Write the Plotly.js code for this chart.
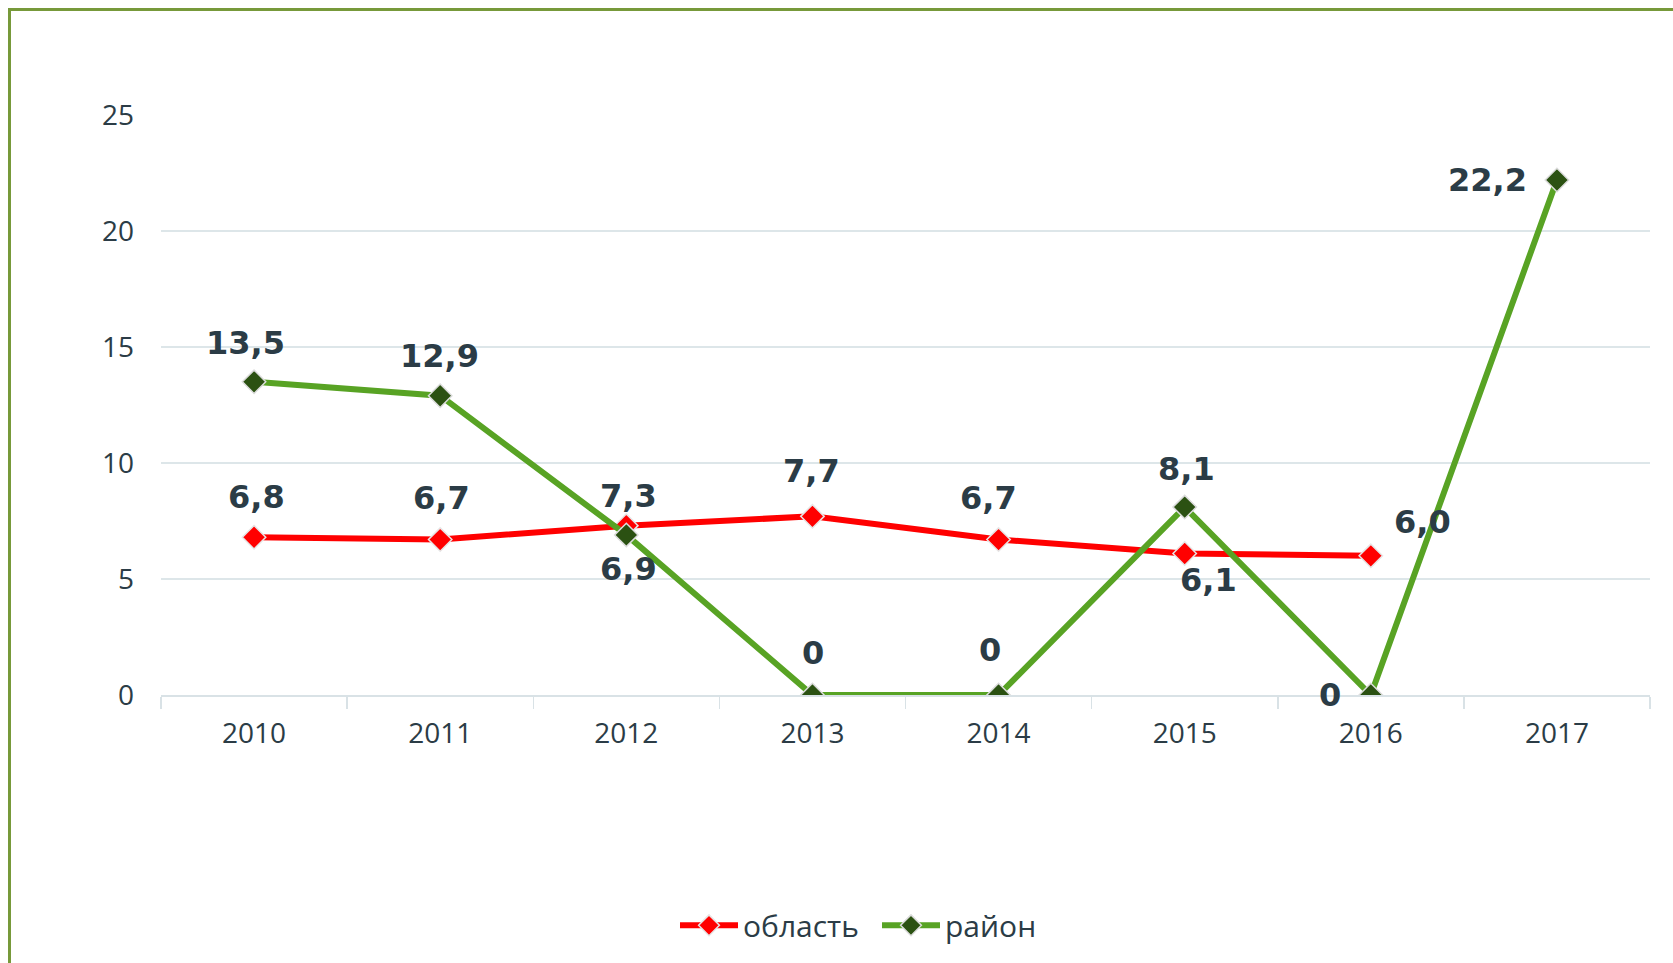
<!DOCTYPE html>
<html>
<head>
<meta charset="utf-8">
<script src="https://cdn.plot.ly/plotly-3.0.1.min.js"></script>
<style>
  html, body { margin: 0; padding: 0; background: #fff; }
  #frame { position: absolute; left: 8px; top: 8px; width: 1700px; height: 1000px;
           border-left: 3px solid #77993a; border-top: 3px solid #77993a; }
  #chart { position: absolute; left: 0; top: 0; width: 1673px; height: 963px; }
  #err { position: absolute; left: 20px; top: 20px; color: #000; font: 14px monospace; }
</style>
</head>
<body>
<div id="frame"></div>
<div id="chart"></div>
<div id="err"></div>
<script>
// ---- data ----
const years = ['2010', '2011', '2012', '2013', '2014', '2015', '2016', '2017'];
const oblast = [6.8, 6.7, 7.3, 7.7, 6.7, 6.1, 6.0, null];
const rayon = [13.5, 12.9, 6.9, 0, 0, 8.1, 0, 22.2];
const seriesNames = ['область', 'район'];

// ---- label placement (px offsets from the point) ----
const oblastOff = [[2, 40], [1, 42], [2, 30], [-1, 45], [-10, 42], [24, -27], [52, 34], null];
const rayonOff = [[-9, 39], [-1, 40], [2, -34], [1, 42], [-9, 45], [2, 38], [-41, 0], [-69, 0]];

function fmt(v) { return v === 0 ? '0' : v.toFixed(1).replace('.', ','); }

const labelFont = { family: 'DejaVu Sans, Verdana, sans-serif', size: 32, color: '#2b3c46' };

try {
const annotations = [];
function addLabels(vals, offs) {
  vals.forEach((v, i) => {
    if (v === null || !offs[i]) return;
    annotations.push({
      x: i, y: v, xref: 'x', yref: 'y', text: '<b>' + fmt(v) + '</b>',
      showarrow: false, xanchor: 'center', yanchor: 'middle',
      xshift: offs[i][0], yshift: offs[i][1], font: labelFont
    });
  });
}
addLabels(oblast, oblastOff);
addLabels(rayon, rayonOff);

const traces = [
  {
    x: years, y: oblast, name: seriesNames[0], type: 'scatter', mode: 'lines+markers',
    line: { color: '#ff0000', width: 6 },
    marker: { symbol: 'diamond', size: 18, color: '#ff0000', line: { color: '#e6e6e6', width: 1.5 } },
    connectgaps: false
  },
  {
    x: years, y: rayon, name: seriesNames[1], type: 'scatter', mode: 'lines+markers',
    line: { color: '#58a324', width: 6 },
    marker: { symbol: 'diamond', size: 18, color: '#2b5112', line: { color: '#dcdcdc', width: 1.5 } }
  }
];

const tickFont = { family: 'Open Sans, Liberation Sans, sans-serif', size: 28, color: '#2b3c46' };

const layout = {
  width: 1673, height: 963,
  paper_bgcolor: 'rgba(0,0,0,0)', plot_bgcolor: 'rgba(0,0,0,0)',
  margin: { l: 161, r: 23, t: 115, b: 268, pad: 0 },
  showlegend: true,
  legend: {
    orientation: 'h', x: (675 - 161) / 1489, y: -0.397, xanchor: 'left', yanchor: 'middle',
    font: { family: 'Open Sans, Liberation Sans, sans-serif', size: 30, color: '#2b3c46' },
    itemwidth: 58, entrywidth: 129, tracegroupgap: 0, bgcolor: 'rgba(0,0,0,0)'
  },
  xaxis: {
    type: 'category', range: [-0.5, 7.5], tickson: 'boundaries',
    ticks: 'outside', ticklen: 12, tickwidth: 1.5, tickcolor: '#d9e2e6',
    showline: true, linecolor: '#d9e2e6', linewidth: 2,
    showgrid: false, zeroline: false, tickfont: tickFont, ticklabelstandoff: 12,
    fixedrange: true
  },
  yaxis: {
    range: [0, 25], dtick: 5, tick0: 0, showgrid: true, gridcolor: '#dde6e9', gridwidth: 2,
    zeroline: false, showline: false, ticks: '', tickfont: tickFont, ticklabelstandoff: 26,
    fixedrange: true
  },
  annotations: annotations
};

Plotly.newPlot('chart', traces, layout, { displayModeBar: false, staticPlot: true })
  .catch(e => { document.getElementById('err').textContent = String(e); });
} catch (e) { document.getElementById('err').textContent = String(e); }
</script>
</body>
</html>
